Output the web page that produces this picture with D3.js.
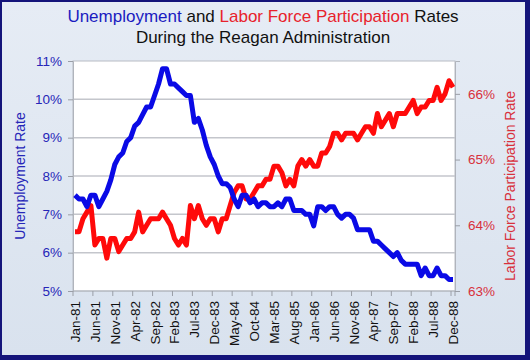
<!DOCTYPE html>
<html>
<head>
<meta charset="utf-8">
<script src="https://cdn.jsdelivr.net/npm/d3@7"></script>
<style>
  body { margin: 0; }
  svg { display: block; font-family: "Liberation Sans", Arial, sans-serif; }
</style>
</head>
<body>
<svg width="530" height="360"></svg>
<script>
var monthNames = ["Jan","Feb","Mar","Apr","May","Jun","Jul","Aug","Sep","Oct","Nov","Dec"];
var years = ["81","82","83","84","85","86","87","88"];

var unemployment = [
  7.5, 7.4, 7.4, 7.2, 7.5, 7.5, 7.2, 7.4, 7.6, 7.9, 8.3, 8.5,
  8.6, 8.9, 9.0, 9.3, 9.4, 9.6, 9.8, 9.8, 10.1, 10.4, 10.8, 10.8,
  10.4, 10.4, 10.3, 10.2, 10.1, 10.1, 9.4, 9.5, 9.2, 8.8, 8.5, 8.3,
  8.0, 7.8, 7.8, 7.7, 7.4, 7.2, 7.5, 7.5, 7.3, 7.4, 7.2, 7.3,
  7.3, 7.2, 7.2, 7.3, 7.2, 7.4, 7.4, 7.1, 7.1, 7.1, 7.0, 7.0,
  6.7, 7.2, 7.2, 7.1, 7.2, 7.2, 7.0, 6.9, 7.0, 7.0, 6.9, 6.6,
  6.6, 6.6, 6.6, 6.3, 6.3, 6.2, 6.1, 6.0, 5.9, 6.0, 5.8, 5.7,
  5.7, 5.7, 5.7, 5.4, 5.6, 5.4, 5.4, 5.6, 5.4, 5.4, 5.3, 5.3
];

var participation = [
  63.9, 63.9, 64.1, 64.2, 64.3, 63.7, 63.8, 63.8, 63.5, 63.8, 63.8, 63.6,
  63.7, 63.8, 63.8, 63.9, 64.2, 63.9, 64.0, 64.1, 64.1, 64.1, 64.2, 64.1,
  64.0, 63.8, 63.7, 63.8, 63.7, 64.3, 64.1, 64.3, 64.1, 64.0, 64.1, 64.1,
  63.9, 64.1, 64.1, 64.3, 64.5, 64.6, 64.6, 64.4, 64.4, 64.5, 64.6, 64.6,
  64.7, 64.7, 64.9, 64.9, 64.8, 64.6, 64.7, 64.6, 64.9, 65.0, 64.9, 65.0,
  64.9, 64.9, 65.1, 65.1, 65.2, 65.4, 65.4, 65.3, 65.4, 65.4, 65.4, 65.3,
  65.4, 65.5, 65.5, 65.4, 65.7, 65.5, 65.6, 65.7, 65.5, 65.7, 65.7, 65.7,
  65.8, 65.9, 65.7, 65.8, 65.8, 65.9, 65.9, 66.1, 65.9, 66.0, 66.2, 66.1
];

var leftTicks = [5, 6, 7, 8, 9, 10, 11];
var rightTicks = [63, 64, 65, 66];

var months = [];
years.forEach(function(y) {
  monthNames.forEach(function(m) { months.push(m + "-" + y); });
});
var labelEvery = 5;

var svg = d3.select("svg"),
    W = +svg.attr("width"), H = +svg.attr("height"),
    margin = {top: 61, right: 75, bottom: 69, left: 73},
    width = W - margin.left - margin.right,
    height = H - margin.top - margin.bottom;

var defs = svg.append("defs");
var grad = defs.append("linearGradient").attr("id", "bg")
    .attr("x1", 0).attr("y1", 0).attr("x2", 0).attr("y2", 1);
grad.append("stop").attr("offset", "0%").attr("stop-color", "#e6ecf5");
grad.append("stop").attr("offset", "100%").attr("stop-color", "#d9e2ee");

// frame
svg.append("rect").attr("width", W).attr("height", H).attr("fill", "#14147a");
svg.append("rect").attr("x", 2).attr("y", 2)
    .attr("width", W - 7).attr("height", H - 7)
    .attr("fill", "url(#bg)");

var g = svg.append("g").attr("transform", "translate(" + margin.left + "," + margin.top + ")");

var x = d3.scaleBand().domain(months).range([0, width]).paddingInner(0).paddingOuter(0);
var yL = d3.scaleLinear().domain([5, 11]).range([height, 0]);
var yR = d3.scaleLinear().domain([63, 66.5]).range([height, 0]);

g.append("rect").attr("width", width).attr("height", height)
    .attr("fill", "#ffffff").attr("stroke", "#b8bcc4").attr("stroke-width", 1);

// gridlines
g.append("g").selectAll("line")
  .data(leftTicks.slice(1, -1))
  .enter().append("line")
    .attr("x1", 0).attr("x2", width)
    .attr("y1", function(d) { return yL(d); })
    .attr("y2", function(d) { return yL(d); })
    .attr("stroke", "#c4c6cc").attr("stroke-width", 1.5);

// left axis
var axL = g.append("g")
    .call(d3.axisLeft(yL).tickValues(leftTicks).tickSize(5).tickPadding(6)
      .tickFormat(function(d) { return d + "%"; }));
axL.select(".domain").attr("stroke", "#b0b4bc");
axL.selectAll(".tick line").attr("stroke", "#9a9ea6");
axL.selectAll("text").attr("fill", "#2626b8").attr("font-size", 13.5)
    .attr("font-family", "Liberation Sans, Arial, sans-serif");

// right axis
var axR = g.append("g").attr("transform", "translate(" + width + ",0)")
    .call(d3.axisRight(yR).tickValues(rightTicks).tickSize(5).tickPadding(8)
      .tickFormat(function(d) { return d + "%"; }));
axR.select(".domain").attr("stroke", "#b0b4bc");
axR.selectAll(".tick line").attr("stroke", "#9a9ea6");
axR.selectAll("text").attr("fill", "#d8303c").attr("font-size", 13.5)
    .attr("font-family", "Liberation Sans, Arial, sans-serif");

// bottom axis
var xTicks = months.filter(function(d, i) { return i % labelEvery === 0; });
var axB = g.append("g").attr("transform", "translate(0," + height + ")");
axB.append("line").attr("x1", 0).attr("x2", width).attr("stroke", "#b0b4bc");
axB.selectAll(".tk").data(xTicks.concat([null])).enter().append("line")
    .attr("x1", function(d) { return d ? x(d) : width; })
    .attr("x2", function(d) { return d ? x(d) : width; })
    .attr("y1", 0).attr("y2", 5).attr("stroke", "#9a9ea6");
axB.selectAll("text").data(xTicks).enter().append("text")
    .attr("transform", function(d) {
      return "translate(" + (x(d) + x.bandwidth() / 2 + 5) + ",10) rotate(-90)";
    })
    .attr("text-anchor", "end")
    .attr("font-size", 13.5)
    .attr("fill", "#111")
    .text(function(d) { return d; });

// lines
var cx = function(d, i) { return x(months[i]) + x.bandwidth() / 2; };
var lineU = d3.line().x(cx).y(function(d) { return yL(d); });
var lineP = d3.line().x(cx).y(function(d) { return yR(d); });

g.append("path").datum(participation)
    .attr("d", lineP).attr("fill", "none")
    .attr("stroke", "#ff0a0a").attr("stroke-width", 5)
    .attr("stroke-linejoin", "round");
g.append("path").datum(unemployment)
    .attr("d", lineU).attr("fill", "none")
    .attr("stroke", "#0a0ae6").attr("stroke-width", 5)
    .attr("stroke-linejoin", "round");

// axis titles
svg.append("text")
    .attr("transform", "translate(25," + (margin.top + height / 2) + ") rotate(-90)")
    .attr("text-anchor", "middle").attr("font-size", 14)
    .attr("fill", "#2626b8").text("Unemployment Rate");
svg.append("text")
    .attr("transform", "translate(515," + (margin.top + height / 2 + 10) + ") rotate(-90)")
    .attr("text-anchor", "middle").attr("font-size", 14)
    .attr("fill", "#d8303c").text("Labor Force Participation Rate");

// title
var t1 = svg.append("text").attr("x", W / 2 - 2).attr("y", 22)
    .attr("text-anchor", "middle").attr("font-size", 17).attr("fill", "#111");
t1.append("tspan").attr("fill", "#1a1ac0").text("Unemployment");
t1.append("tspan").text(" and ");
t1.append("tspan").attr("fill", "#e8222c").text("Labor Force Participation");
t1.append("tspan").text(" Rates");
svg.append("text").attr("x", W / 2 - 2).attr("y", 43)
    .attr("text-anchor", "middle").attr("font-size", 17).attr("fill", "#111")
    .text("During the Reagan Administration");
</script>
</body>
</html>
